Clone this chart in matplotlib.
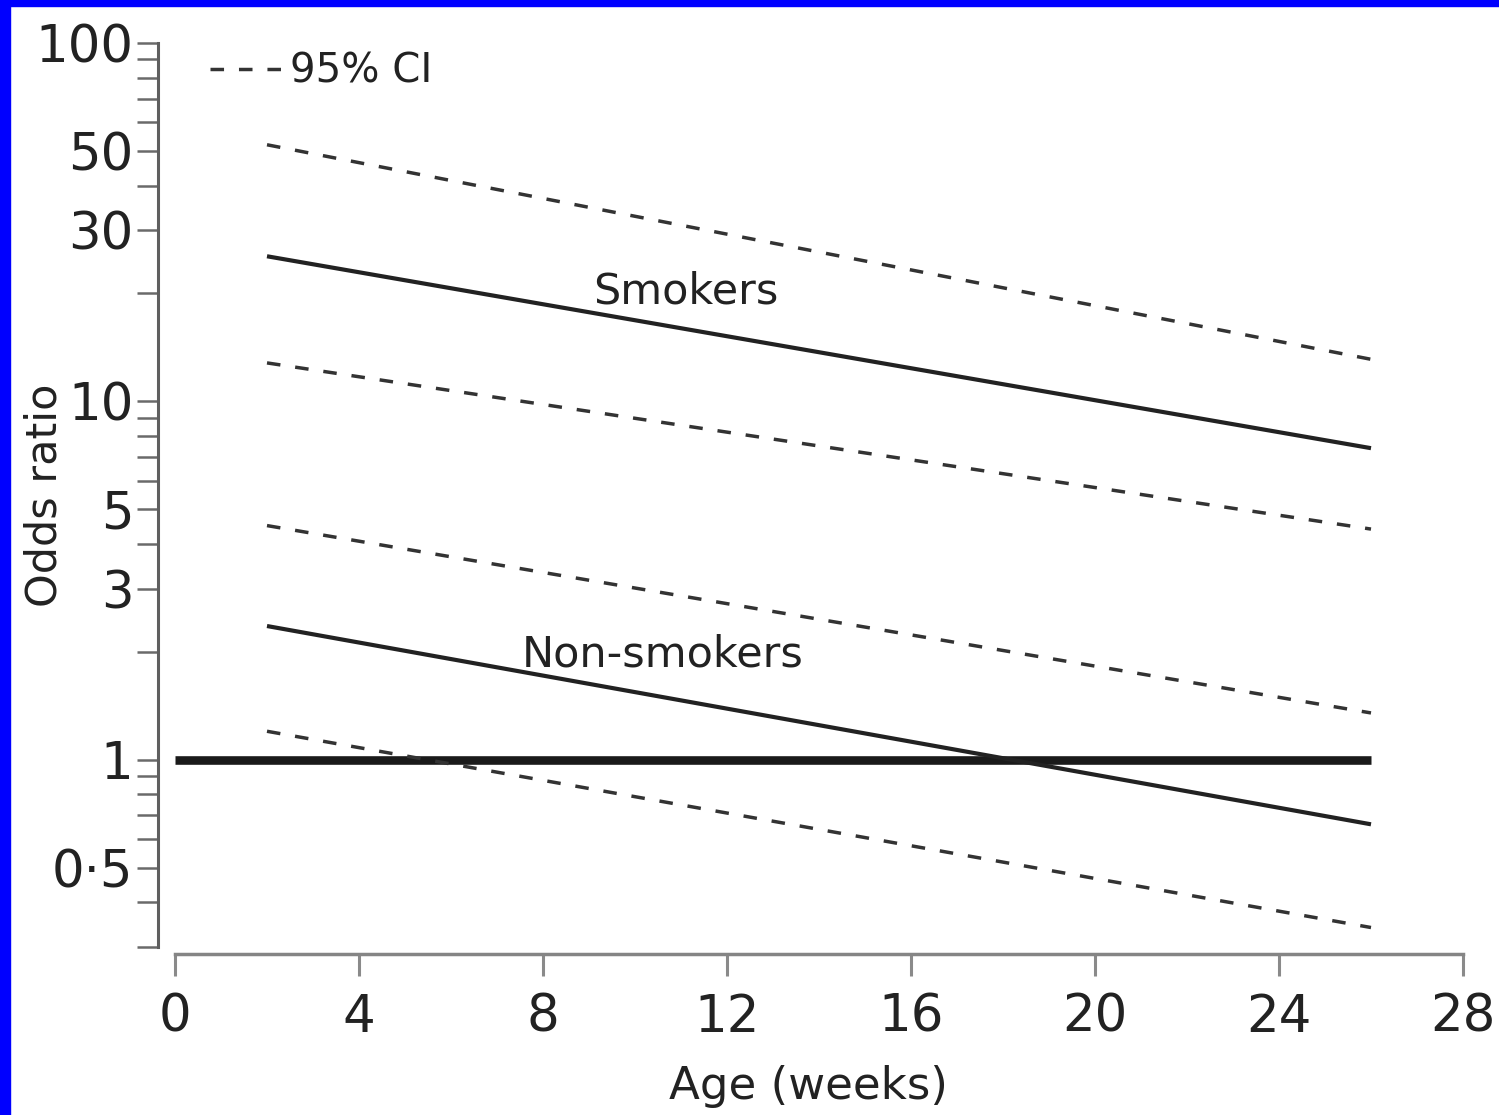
import matplotlib
matplotlib.use("Agg")
import matplotlib.pyplot as plt
from matplotlib.lines import Line2D
from matplotlib.patches import Rectangle
from matplotlib.ticker import FixedLocator, FixedFormatter

# data (odds ratio vs age, log scale)
ages = [2, 26]
smokers_or = [25.4, 7.4]
smokers_hi = [52.0, 13.1]
smokers_lo = [12.8, 4.4]
non_or = [2.36, 0.66]
non_hi = [4.5, 1.35]
non_lo = [1.2, 0.34]
ref_x = [0, 26]
ref_y = [1, 1]

x_ticks = [0, 4, 8, 12, 16, 20, 24, 28]
y_ticks = [0.3, 0.4, 0.5, 0.6, 0.7, 0.8, 0.9, 1, 2, 3, 4, 5, 6, 7, 8, 9,
           10, 20, 30, 40, 50, 60, 70, 80, 90, 100]
y_labels = {0.5: '0·5', 1: '1', 3: '3', 5: '5', 10: '10', 30: '30',
            50: '50', 100: '100'}

plt.rcParams['font.family'] = ['DejaVu Sans']

W, H = 1499, 1115
fig = plt.figure(figsize=(W / 100, H / 100), dpi=100)
fig.patch.set_facecolor('white')
ax = fig.add_axes([175 / W, 1 - 947 / H, 1288 / W, 904 / H])

solid = dict(color='#222222', lw=3.0, solid_capstyle='butt')
dash = dict(color='#333333', lw=2.5, linestyle=(0, (3.9, 4.3)))

ax.plot(ref_x, ref_y, color='#1a1a1a', lw=6.2, solid_capstyle='butt')
ax.plot(ages, smokers_or, **solid)
ax.plot(ages, smokers_hi, **dash)
ax.plot(ages, smokers_lo, **dash)
ax.plot(ages, non_or, **solid)
ax.plot(ages, non_hi, **dash)
ax.plot(ages, non_lo, **dash)

ax.text(11.1, 18.7, 'Smokers', fontsize=31, color='#222222',
        ha='center', va='baseline')
ax.text(10.6, 1.82, 'Non-smokers', fontsize=31, color='#222222',
        ha='center', va='baseline')

ax.set_yscale('log')
ax.set_xlim(0, 28)
ax.set_ylim(0.3, 100)

ax.yaxis.set_major_locator(FixedLocator(y_ticks))
ax.yaxis.set_major_formatter(FixedFormatter([y_labels.get(v, '') for v in y_ticks]))
ax.yaxis.set_minor_locator(FixedLocator([]))
ax.set_xticks(x_ticks)
ax.set_xticklabels([str(v) for v in x_ticks])

for s in ['top', 'right']:
    ax.spines[s].set_visible(False)
ax.spines['left'].set_position(('outward', 12))
ax.spines['left'].set_bounds(0.3, 100)
ax.spines['left'].set_color('#5f5f5f')
ax.spines['left'].set_linewidth(2.2)
ax.spines['bottom'].set_position(('outward', 5))
ax.spines['bottom'].set_bounds(0, 28)
ax.spines['bottom'].set_color('#858585')
ax.spines['bottom'].set_linewidth(2.5)

ax.tick_params(axis='y', length=15, width=1.8, color='#6a6a6a', pad=3,
               labelsize=37, labelcolor='#222222')
ax.tick_params(axis='x', length=16, width=2.2, color='#8a8a8a', pad=12,
               labelsize=37, labelcolor='#222222')

ax.set_ylabel('Odds ratio', fontsize=31, color='#222222')
ax.yaxis.set_label_coords(-0.085, 0.5)
ax.set_xlabel('Age (weeks)', fontsize=32.5, color='#222222')
ax.xaxis.set_label_coords(0.492, -0.13)

ci = Line2D([], [], **dash)
ax.legend([ci], ['95% CI'], loc='center left', bbox_to_anchor=(0.027, 0.968),
          frameon=False, fontsize=29, handlelength=1.8, handletextpad=0.2,
          borderpad=0, borderaxespad=0, labelcolor='#222222')

# blue frame strips on the left and top edges
fig.patches.append(Rectangle((0, 0), 10 / W, 1, transform=fig.transFigure,
                             color='#0000ff', zorder=10))
fig.patches.append(Rectangle((0, 1 - 6 / H), 1, 6 / H, transform=fig.transFigure,
                             color='#0000ff', zorder=10))

fig.savefig('out.png', dpi=100)
